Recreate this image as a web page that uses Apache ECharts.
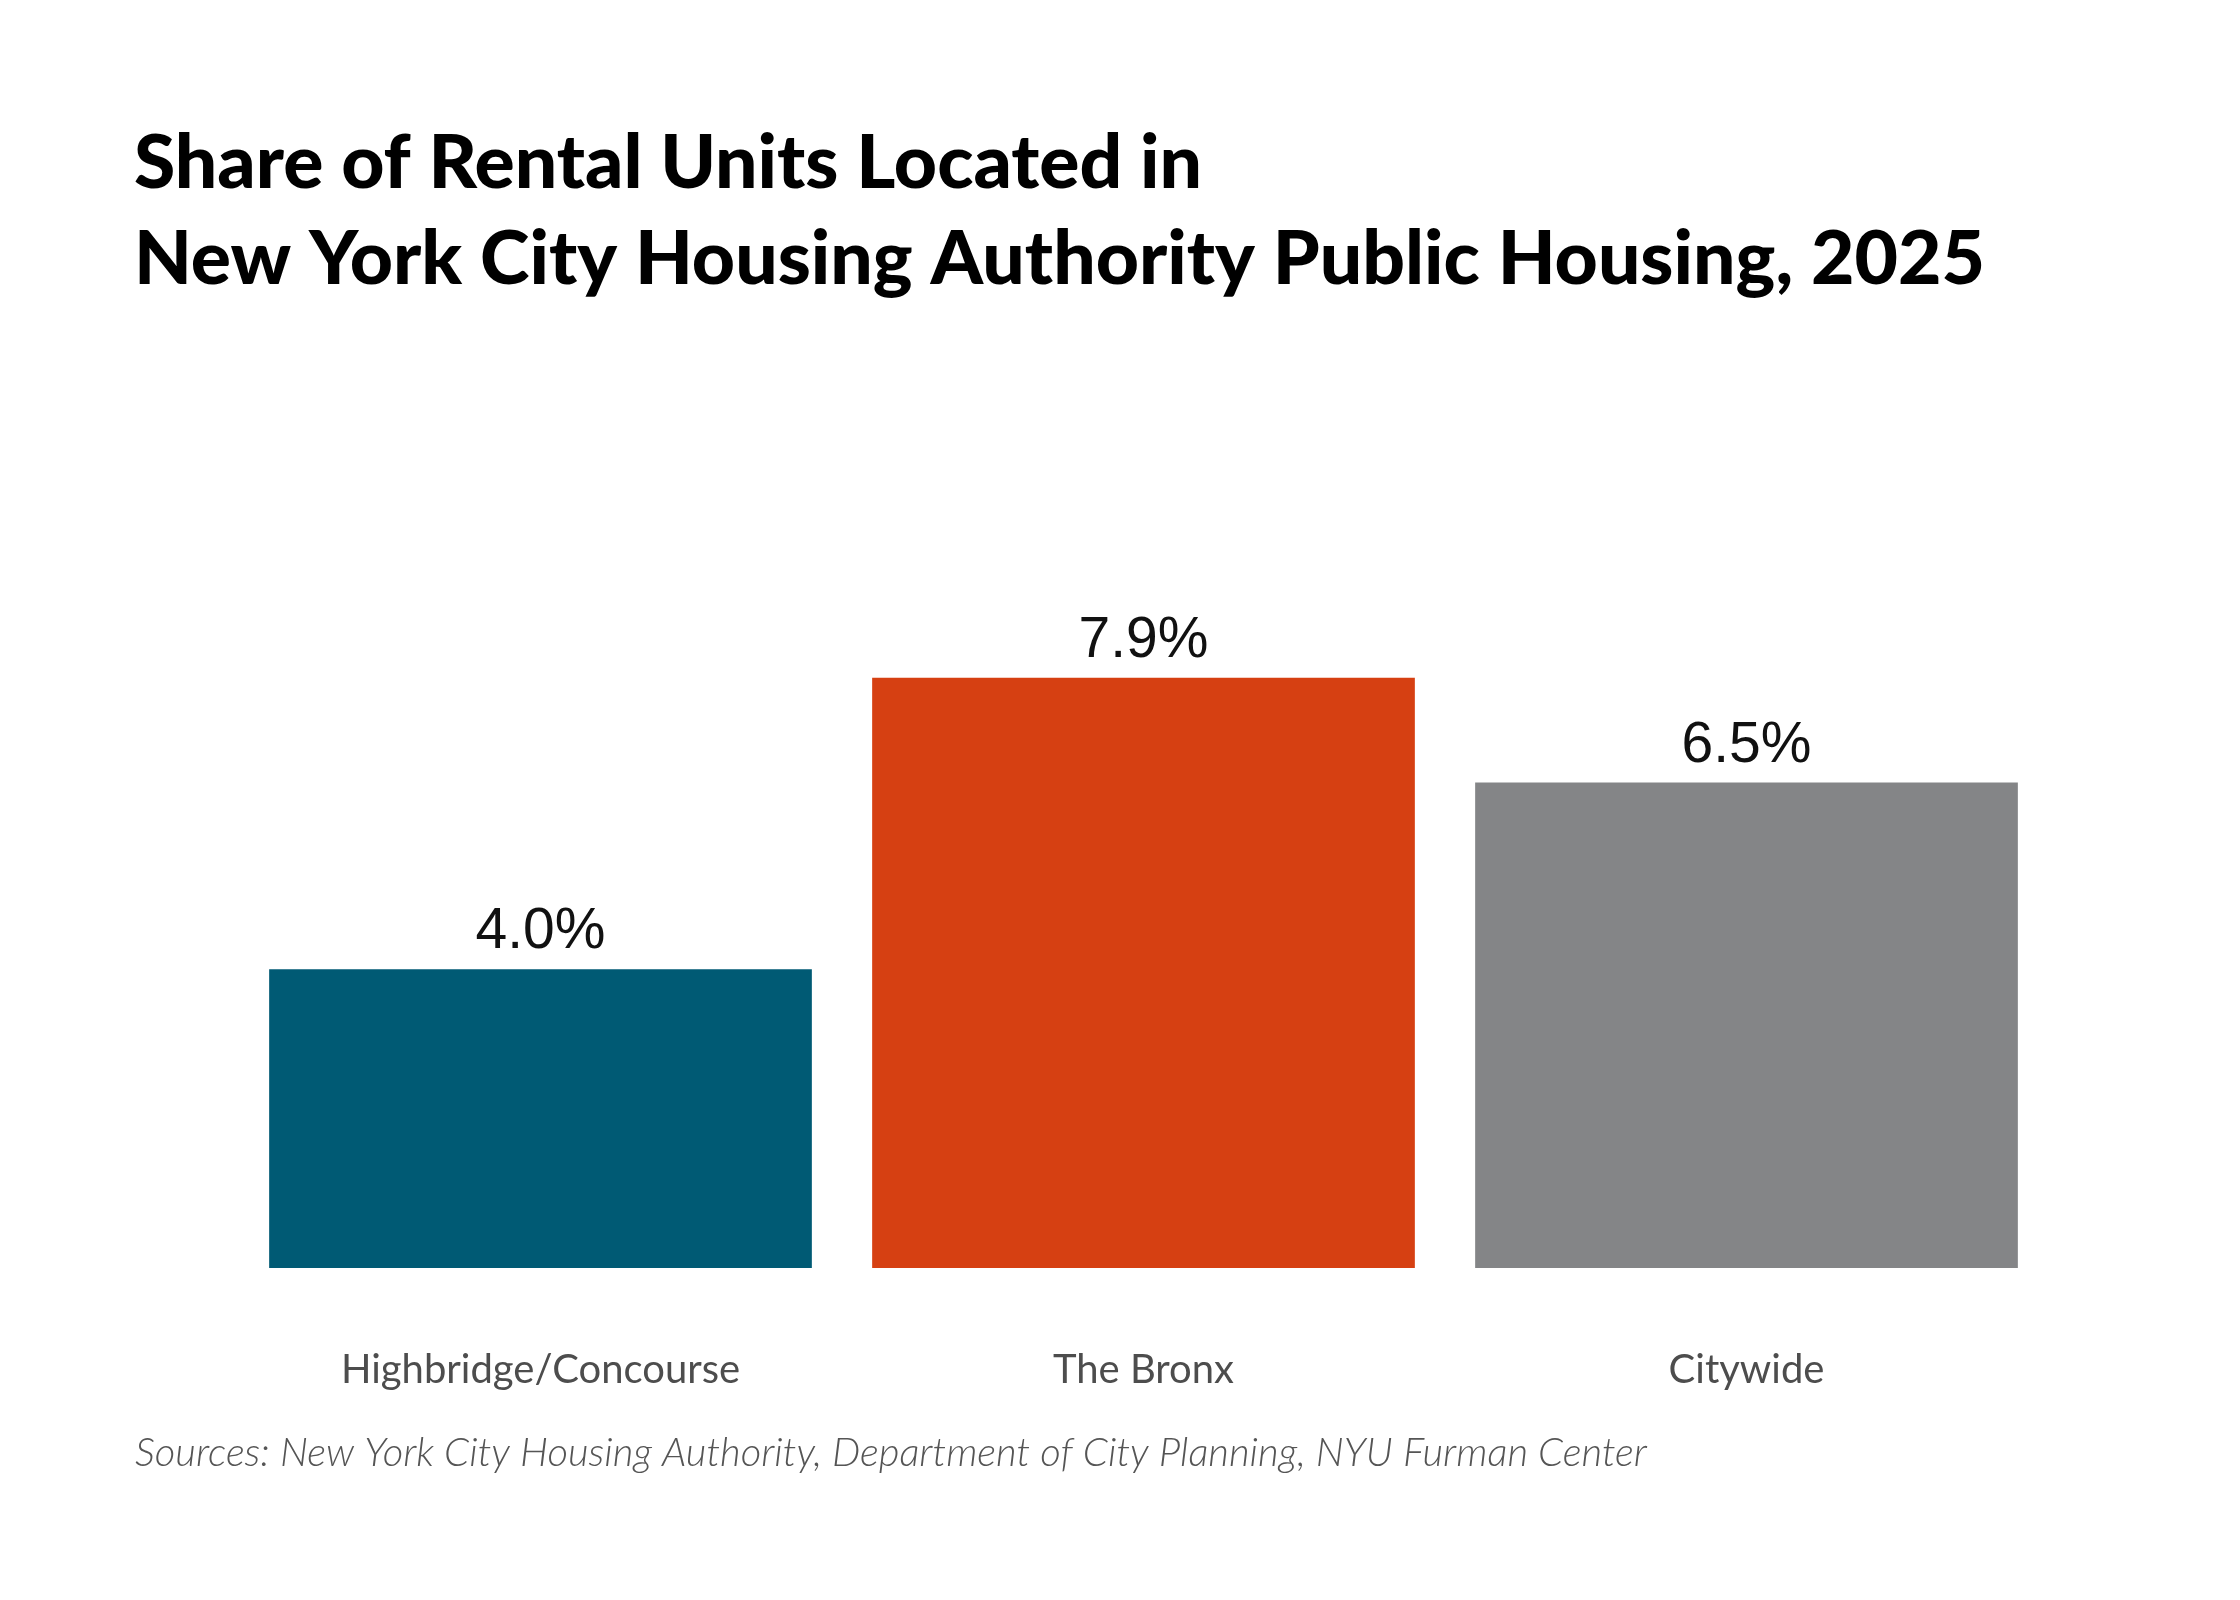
<!DOCTYPE html>
<html>
<head>
<meta charset="utf-8">
<script src="https://cdn.jsdelivr.net/npm/echarts@6/dist/echarts.min.js"></script>
<style>
  html, body { margin: 0; padding: 0; background: #fff; }
  #chart { width: 2240px; height: 1600px; }
</style>
</head>
<body>
<div id="chart"></div>
<script>
// data
const categories = ['Highbridge/Concourse', 'The Bronx', 'Citywide'];
const shares = [4.0, 7.9, 6.5];
const barColors = ['#005a74', '#d64012', '#848587'];

const titleText = 'Share of Rental Units Located in\nNew York City Housing Authority Public Housing, 2025';
const sourceText = 'Sources: New York City Housing Authority, Department of City Planning, NYU Furman Center';

const myChart = echarts.init(document.getElementById('chart'));

const option = {
  backgroundColor: '#fff',
  animation: false,
  title: [
    {
      text: titleText,
      left: 129,
      top: 111,
      textStyle: {
        fontFamily: 'Lato',
        fontWeight: 900,
        fontSize: 75,
        lineHeight: 96,
        color: '#000'
      }
    },
    {
      text: sourceText,
      left: 130,
      top: 1428,
      textStyle: {
        fontFamily: 'Lato',
        fontStyle: 'italic',
        fontWeight: 300,
        fontSize: 40,
        color: '#555'
      }
    }
  ],
  grid: {
    left: 239,
    right: 192,
    top: 521,
    bottom: 332,
    containLabel: false
  },
  xAxis: {
    type: 'category',
    data: categories,
    axisLine: { show: false },
    axisTick: { show: false },
    axisLabel: {
      margin: 82,
      fontFamily: 'Lato',
      fontSize: 40,
      color: '#4d4d4d'
    }
  },
  yAxis: {
    type: 'value',
    min: 0,
    max: 10,
    show: false,
    splitLine: { show: false }
  },
  series: [{
    type: 'bar',
    barCategoryGap: '10%',
    data: shares.map((v, i) => ({ value: v, itemStyle: { color: barColors[i] } })),
    label: {
      show: true,
      position: 'top',
      distance: 8,
      formatter: p => p.value.toFixed(1) + '%',
      fontFamily: 'Liberation Sans',
      fontSize: 57,
      color: '#111'
    }
  }]
};

myChart.setOption(option);
window.onresize = () => { myChart.resize() };
</script>
</body>
</html>
